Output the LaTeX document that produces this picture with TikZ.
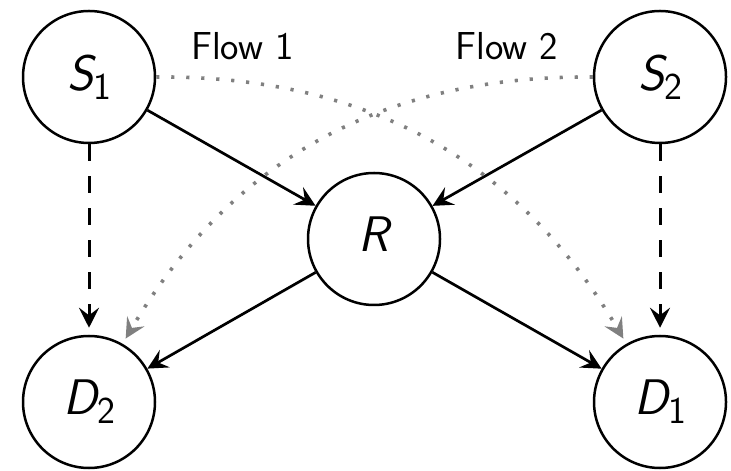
\documentclass[tikz,border=0pt]{standalone}
\usetikzlibrary{arrows.meta}
\newcommand{\nlab}[2]{{\sffamily\fontsize{25}{30}\selectfont\slshape #1\upshape\raisebox{-4.5pt}{\fontsize{19}{22}\selectfont #2}}}
\begin{document}
\begin{tikzpicture}[x=0.5pt,y=0.5pt,
  >={Stealth[length=10pt,width=10pt,inset=3.8pt]},
  vertex/.style={circle,draw,line width=1.25pt,minimum size=66pt,inner sep=0pt},
  solidarrow/.style={->,line width=1.35pt},
  dasharrow/.style={->,line width=1.5pt,dash pattern=on 8.5pt off 7.5pt,shorten >=3.5pt},
  flowarrow/.style={->,draw=black!50,line width=1.8pt,dash pattern=on 1.6pt off 5.9pt,shorten >=3pt},
  flowlabel/.style={font=\sffamily\fontsize{19.5}{23}\selectfont,anchor=base,inner sep=0pt}]
\useasboundingbox (0,0) rectangle (731,470);
\node[vertex] (S1) at (89,393) {\nlab{S}{1}};
\node[vertex] (S2) at (660,393) {\nlab{S}{2}};
\node[vertex] (R) at (374,231) {\nlab{R}{}};
\node[vertex] (D2) at (89,68) {\nlab{D}{2}};
\node[vertex] (D1) at (660,68) {\nlab{D}{1}};
\node[flowlabel] (F1) at (242.5,410) {Flow 1};
\node[flowlabel] (F2) at (506.7,410) {Flow 2};
\draw[solidarrow] (S1) -- (R);
\draw[solidarrow] (S2) -- (R);
\draw[solidarrow] (R) -- (D2);
\draw[solidarrow] (R) -- (D1);
\draw[dasharrow] (S1.south) -- (D2.north);
\draw[dasharrow] (S2.south) -- (D1.north);
\draw[flowarrow] (S1.east) to[bend left=30] (D1.120);
\draw[flowarrow] (S2.west) to[bend right=30] (D2.60);
\end{tikzpicture}
\end{document}
